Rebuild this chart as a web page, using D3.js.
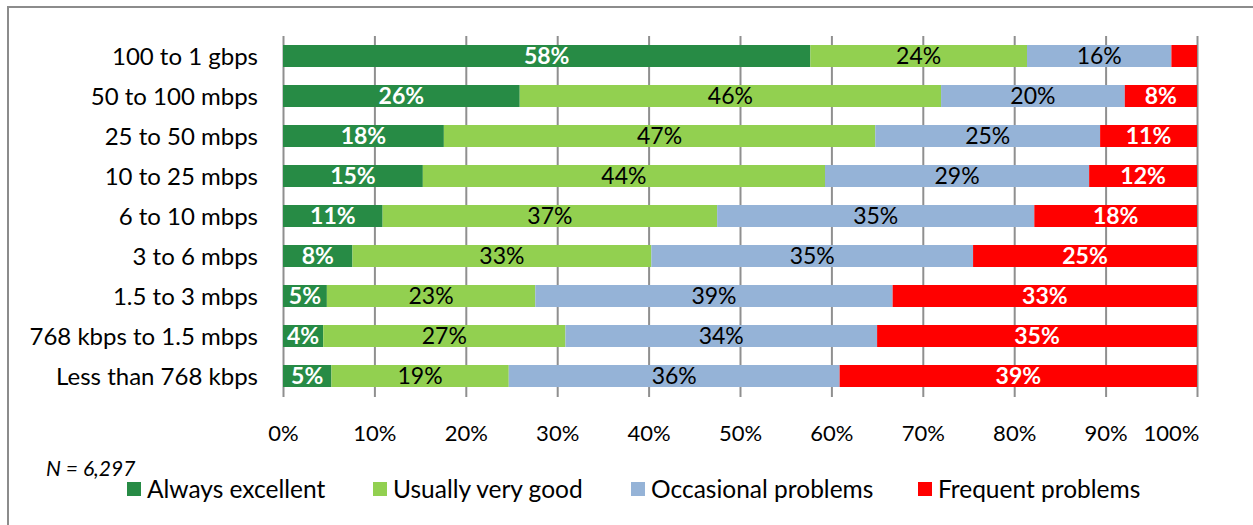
<!DOCTYPE html>
<html>
<head>
<meta charset="utf-8">
<script src="https://cdn.jsdelivr.net/npm/d3@7"></script>
<style>
  html, body { margin: 0; padding: 0; background: #fff; }
  svg { display: block; font-family: Lato, "Open Sans", sans-serif; }
</style>
</head>
<body>
<svg id="chart" width="1253" height="525"></svg>
<script>
// ---- data ----
const categories = [
  "100 to 1 gbps",
  "50 to 100 mbps",
  "25 to 50 mbps",
  "10 to 25 mbps",
  "6 to 10 mbps",
  "3 to 6 mbps",
  "1.5 to 3 mbps",
  "768 kbps to 1.5 mbps",
  "Less than 768 kbps"
];
const seriesNames = ["Always excellent", "Usually very good", "Occasional problems", "Frequent problems"];
const alwaysExcellent    = [57.7, 25.9, 17.6, 15.3, 10.9, 7.6, 4.8, 4.4, 5.3];
const usuallyVeryGood    = [23.7, 46.1, 47.2, 44.0, 36.6, 32.7, 22.8, 26.5, 19.4];
const occasionalProblems = [15.8, 20.1, 24.6, 28.9, 34.7, 35.2, 39.1, 34.1, 36.2];
const frequentProblems   = [2.8, 7.9, 10.6, 11.8, 17.8, 24.5, 33.3, 35.0, 39.1];
const tickValues = [0, 10, 20, 30, 40, 50, 60, 70, 80, 90, 100];
const noteText = "N = 6,297";

// ---- styling ----
const colors = ["#278B45", "#92D050", "#95B3D7", "#FF0000"];
const labelColors = ["#ffffff", "#000000", "#000000", "#ffffff"];
const labelWeights = ["bold", "normal", "normal", "bold"];

const svg = d3.select("#chart");

const rows = categories.map((c, i) => ({
  cat: c,
  v: [alwaysExcellent[i], usuallyVeryGood[i], occasionalProblems[i], frequentProblems[i]]
}));
const stack = d3.stack().keys([0, 1, 2, 3]).value((d, k) => d.v[k]);
const stacked = stack(rows);

const x = d3.scaleLinear().domain([0, 100]).range([283, 1197]);
const y = d3.scaleBand().domain(categories).range([36, 396]).paddingInner(0.45).paddingOuter(0.225);

// outer frame (top and left edges)
svg.append("path")
  .attr("d", "M8,1000 L8,7 L1260,7")
  .attr("fill", "none").attr("stroke", "#8c8c8c").attr("stroke-width", 2);

// gridlines via axis
const grid = svg.append("g").attr("transform", "translate(0,397)")
  .call(d3.axisTop(x).tickValues(tickValues).tickSize(361).tickFormat(""));
grid.select(".domain").remove();
grid.selectAll("line").attr("stroke", "#8f8f8f").attr("stroke-width", 2);

// bars
const layer = svg.append("g").selectAll("g").data(stacked).enter().append("g")
  .attr("fill", (d, i) => colors[i]);
layer.selectAll("rect").data(d => d).enter().append("rect")
  .attr("x", d => x(d[0]))
  .attr("y", d => y(d.data.cat))
  .attr("width", d => x(d[1]) - x(d[0]))
  .attr("height", y.bandwidth());

// data labels
stacked.forEach((s, k) => {
  svg.append("g").selectAll("text").data(s.filter(d => d[1] - d[0] >= 4)).enter().append("text")
    .attr("x", d => (x(d[0]) + x(d[1])) / 2)
    .attr("y", d => y(d.data.cat) + y.bandwidth() / 2)
    .attr("dy", "0.36em")
    .attr("text-anchor", "middle")
    .attr("fill", labelColors[k])
    .attr("font-weight", labelWeights[k])
    .attr("font-size", 23)
    .text(d => Math.round(d[1] - d[0]) + "%");
});

// category axis
const yAxis = svg.append("g").attr("transform", "translate(258,0)")
  .call(d3.axisLeft(y).tickSize(0).tickPadding(0));
yAxis.select(".domain").remove();
yAxis.selectAll("text").attr("font-size", 24).attr("fill", "#000").attr("font-family", "Lato")
  .attr("dy", "0.36em");

// value axis labels
const xAxis = svg.append("g").attr("transform", "translate(0,433)")
  .call(d3.axisBottom(x).tickValues(tickValues).tickSize(0).tickPadding(0).tickFormat(d => d + "%"));
xAxis.select(".domain").remove();
xAxis.selectAll("text").attr("font-size", 22).attr("fill", "#000").attr("font-family", "Lato")
  .attr("dy", "0.36em");
xAxis.selectAll(".tick").filter(d => d === 100).select("text")
  .attr("text-anchor", "end").attr("x", 2);

// note
svg.append("text").attr("x", 46).attr("y", 476)
  .attr("font-style", "italic").attr("font-size", 21).text(noteText);

// legend
const legendX = [127, 373, 631, 918];
const lg = svg.append("g").selectAll("g").data(seriesNames).enter().append("g")
  .attr("transform", (d, i) => `translate(${legendX[i]},482)`);
lg.append("rect").attr("width", 14).attr("height", 14).attr("fill", (d, i) => colors[i]);
lg.append("text").attr("x", 20).attr("y", 7).attr("dy", "0.36em")
  .attr("font-size", 24.5).text(d => d);
</script>
</body>
</html>
